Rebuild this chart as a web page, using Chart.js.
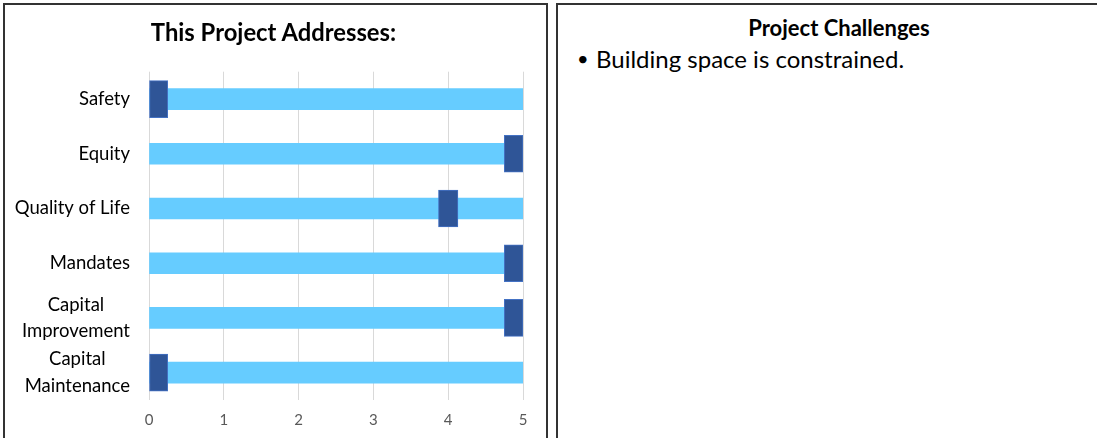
<!DOCTYPE html>
<html>
<head>
<meta charset="utf-8">
<script src="https://cdn.jsdelivr.net/npm/chart.js@4"></script>
<style>
  html, body { margin:0; padding:0; background:#fff; width:1097px; height:438px; overflow:hidden; font-family: Lato, "Open Sans", sans-serif; }
  .panel { position:absolute; border:2px solid #333; box-sizing:border-box; }
  #left { left:3px; top:3px; width:545px; height:450px; border-bottom:none; }
  #right { left:556px; top:3px; width:560px; height:450px; border-bottom:none; border-right:none; }
  #chartWrap { position:absolute; left:4px; top:4px; width:541px; height:434px; }
  #ltitle { position:absolute; left:1px; width:545px; top:17px; text-align:center; font-weight:bold; font-size:23.8px; line-height:30px; color:#000; }
  #rtitle { position:absolute; left:565px; width:548px; top:14px; text-align:center; font-weight:bold; font-size:22px; color:#000; }
  #rlist { position:absolute; left:577px; top:44px; font-size:24px; color:#000; }
  #rlist span.b { display:inline-block; width:19px; font-size:20px; vertical-align:top; position:relative; top:2px; }
</style>
</head>
<body>
<div class="panel" id="left"></div>
<div class="panel" id="right"></div>
<div id="chartWrap"><canvas id="c" width="541" height="434"></canvas></div>
<div id="ltitle"></div>
<div id="rtitle">Project Challenges</div>
<div id="rlist"><span class="b">•</span>Building space is constrained.</div>
<script>
const chartTitle = 'This Project Addresses:';
const categories = ['Safety', 'Equity', 'Quality of Life', 'Mandates', ['Capital', 'Improvement'], ['Capital', 'Maintenance']];
const scaleMax = [5, 5, 5, 5, 5, 5];
const markerStart = [0, 4.75, 3.87, 4.75, 4.75, 0];
const markerEnd = [0.25, 5, 4.13, 5, 5, 0.25];
const xTicks = [0, 1, 2, 3, 4, 5];

document.getElementById('ltitle').textContent = chartTitle;
const markerData = markerStart.map((s, i) => [s, markerEnd[i]]);

const LABEL_FONT = '18.5px Lato';
const LABEL_PAD = 19;
const LABEL_LINE = 26.3;

// Multi-line category labels: each line centred within its block (as in the original)
const centeredMultiline = {
  id: 'centeredMultiline',
  afterDraw(chart) {
    const ctx = chart.ctx;
    const ys = chart.scales.y;
    ctx.save();
    ctx.font = LABEL_FONT;
    ctx.fillStyle = '#000';
    ctx.textAlign = 'center';
    ctx.textBaseline = 'middle';
    categories.forEach((lab, i) => {
      if (!Array.isArray(lab)) return;
      const widest = Math.max(...lab.map(t => ctx.measureText(t).width));
      const cx = ys.right - LABEL_PAD - widest / 2;
      const cy = ys.getPixelForValue(i);
      const top = cy - (lab.length - 1) * LABEL_LINE / 2;
      lab.forEach((t, k) => ctx.fillText(t, cx, top + k * LABEL_LINE));
    });
    ctx.restore();
  }
};

new Chart(document.getElementById('c'), {
  type: 'bar',
  data: {
    labels: categories,
    datasets: [
      {
        label: 'Rating',
        data: markerData,
        backgroundColor: '#2F5597',
        borderColor: '#4472C4',
        borderWidth: 1,
        borderSkipped: false,
        barThickness: 37,
        grouped: false,
        order: 0
      },
      {
        label: 'Scale',
        data: scaleMax,
        backgroundColor: '#66CCFF',
        borderWidth: 0,
        barThickness: 21,
        grouped: false,
        order: 1
      }
    ]
  },
  plugins: [centeredMultiline],
  options: {
    indexAxis: 'y',
    responsive: false,
    animation: false,
    layout: { padding: { right: 22, left: 0, top: 67.7, bottom: 0 } },
    plugins: {
      legend: { display: false },
      tooltip: { enabled: false },
      title: { display: false }
    },
    scales: {
      x: {
        min: 0, max: 5,
        afterBuildTicks: (s) => { s.ticks = xTicks.map(v => ({ value: v })); },
        grid: { color: '#D9D9D9', lineWidth: 1, drawTicks: false },
        border: { display: false },
        ticks: { color: '#595959', font: { family: 'Lato', size: 15 }, padding: 11 },
        afterFit: (s) => { s.height = 38; }
      },
      y: {
        grid: { display: false, drawTicks: false },
        border: { display: false },
        ticks: {
          autoSkip: false,
          color: (c) => Array.isArray(categories[c.index]) ? 'rgba(0,0,0,0)' : '#000',
          font: { family: 'Lato', size: 18.5, lineHeight: 1.42 },
          padding: LABEL_PAD
        },
        afterFit: (s) => { s.width = 145; }
      }
    }
  }
});
</script>
</body>
</html>
